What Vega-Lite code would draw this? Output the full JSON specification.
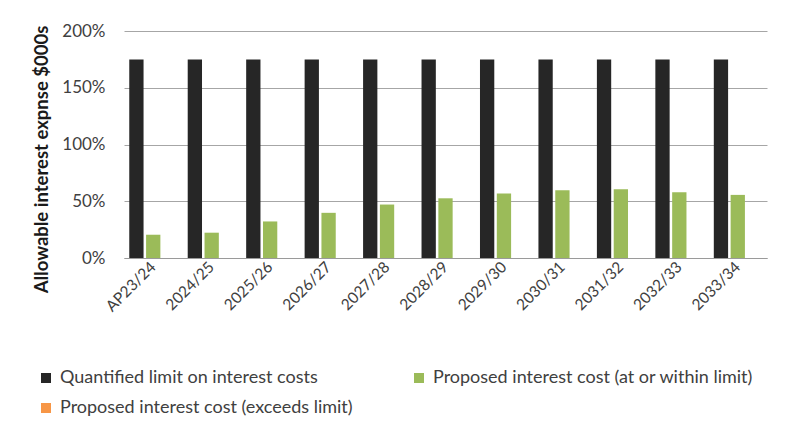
{
  "$schema": "https://vega.github.io/schema/vega-lite/v6.json",
  "width": 643,
  "height": 227,
  "autosize": {"type": "none"},
  "padding": {"left": 124, "top": 31, "right": 19, "bottom": 172},
  "background": "white",
  "config": {
    "view": {"stroke": null},
    "font": "Lato",
    "axis": {"labelFont": "Lato", "titleFont": "Lato", "labelColor": "#404040", "titleColor": "#1a1a1a"},
    "legend": {"labelFont": "Lato"}
  },
  "data": {
    "values": [
      {"year": "AP23/24", "series": "Quantified limit on interest costs", "value": 1.75},
      {"year": "2024/25", "series": "Quantified limit on interest costs", "value": 1.75},
      {"year": "2025/26", "series": "Quantified limit on interest costs", "value": 1.75},
      {"year": "2026/27", "series": "Quantified limit on interest costs", "value": 1.75},
      {"year": "2027/28", "series": "Quantified limit on interest costs", "value": 1.75},
      {"year": "2028/29", "series": "Quantified limit on interest costs", "value": 1.75},
      {"year": "2029/30", "series": "Quantified limit on interest costs", "value": 1.75},
      {"year": "2030/31", "series": "Quantified limit on interest costs", "value": 1.75},
      {"year": "2031/32", "series": "Quantified limit on interest costs", "value": 1.75},
      {"year": "2032/33", "series": "Quantified limit on interest costs", "value": 1.75},
      {"year": "2033/34", "series": "Quantified limit on interest costs", "value": 1.75},
      {"year": "AP23/24", "series": "Proposed interest cost (at or within limit)", "value": 0.205},
      {"year": "2024/25", "series": "Proposed interest cost (at or within limit)", "value": 0.223},
      {"year": "2025/26", "series": "Proposed interest cost (at or within limit)", "value": 0.322},
      {"year": "2026/27", "series": "Proposed interest cost (at or within limit)", "value": 0.398},
      {"year": "2027/28", "series": "Proposed interest cost (at or within limit)", "value": 0.471},
      {"year": "2028/29", "series": "Proposed interest cost (at or within limit)", "value": 0.526},
      {"year": "2029/30", "series": "Proposed interest cost (at or within limit)", "value": 0.568},
      {"year": "2030/31", "series": "Proposed interest cost (at or within limit)", "value": 0.596},
      {"year": "2031/32", "series": "Proposed interest cost (at or within limit)", "value": 0.605},
      {"year": "2032/33", "series": "Proposed interest cost (at or within limit)", "value": 0.579},
      {"year": "2033/34", "series": "Proposed interest cost (at or within limit)", "value": 0.556},
      {"year": "AP23/24", "series": "Proposed interest cost (exceeds limit)", "value": 0},
      {"year": "2024/25", "series": "Proposed interest cost (exceeds limit)", "value": 0},
      {"year": "2025/26", "series": "Proposed interest cost (exceeds limit)", "value": 0},
      {"year": "2026/27", "series": "Proposed interest cost (exceeds limit)", "value": 0},
      {"year": "2027/28", "series": "Proposed interest cost (exceeds limit)", "value": 0},
      {"year": "2028/29", "series": "Proposed interest cost (exceeds limit)", "value": 0},
      {"year": "2029/30", "series": "Proposed interest cost (exceeds limit)", "value": 0},
      {"year": "2030/31", "series": "Proposed interest cost (exceeds limit)", "value": 0},
      {"year": "2031/32", "series": "Proposed interest cost (exceeds limit)", "value": 0},
      {"year": "2032/33", "series": "Proposed interest cost (exceeds limit)", "value": 0},
      {"year": "2033/34", "series": "Proposed interest cost (exceeds limit)", "value": 0}
    ]
  },
  "mark": {"type": "bar"},
  "encoding": {
    "x": {
      "field": "year",
      "type": "nominal",
      "sort": null,
      "title": null,
      "scale": {"paddingInner": 0.18, "paddingOuter": 0.09},
      "axis": {
        "labelAngle": -45,
        "labelAlign": "right",
        "labelBaseline": "middle",
        "labelFontSize": 15.5,
        "labelPadding": 6,
        "ticks": false,
        "domain": true,
        "domainColor": "#9a9a9a",
        "domainWidth": 1.2
      }
    },
    "xOffset": {
      "field": "series",
      "type": "nominal",
      "scale": {
        "domain": ["Quantified limit on interest costs", "Proposed interest cost (at or within limit)", "Proposed interest cost (exceeds limit)"],
        "paddingInner": 0.15
      }
    },
    "y": {
      "field": "value",
      "type": "quantitative",
      "scale": {"domain": [0, 2], "nice": false},
      "axis": {
        "values": [0, 0.5, 1, 1.5, 2],
        "format": ".0%",
        "title": "Allowable interest expnse $000s",
        "titleFontSize": 18.5,
        "titleFontWeight": "bold",
        "titleX": -73,
        "titleY": 128,
        "titleAngle": -90,
        "labelFontSize": 17,
        "labelPadding": 19,
        "ticks": false,
        "domain": false,
        "grid": true,
        "gridColor": "#a6a6a6",
        "gridWidth": 1
      }
    },
    "color": {
      "field": "series",
      "type": "nominal",
      "scale": {
        "domain": ["Quantified limit on interest costs", "Proposed interest cost (exceeds limit)", "Proposed interest cost (at or within limit)"],
        "range": ["#262626", "#f79646", "#9bbb59"]
      },
      "legend": {
        "title": null,
        "orient": "none",
        "legendX": -87,
        "legendY": 338,
        "columns": 2,
        "columnPadding": 57,
        "rowPadding": 12,
        "symbolType": "square",
        "symbolSize": 100,
        "symbolStrokeWidth": 0,
        "labelFontSize": 18,
        "labelColor": "#404040",
        "labelOffset": 5,
        "labelLimit": 400
      }
    }
  }
}
